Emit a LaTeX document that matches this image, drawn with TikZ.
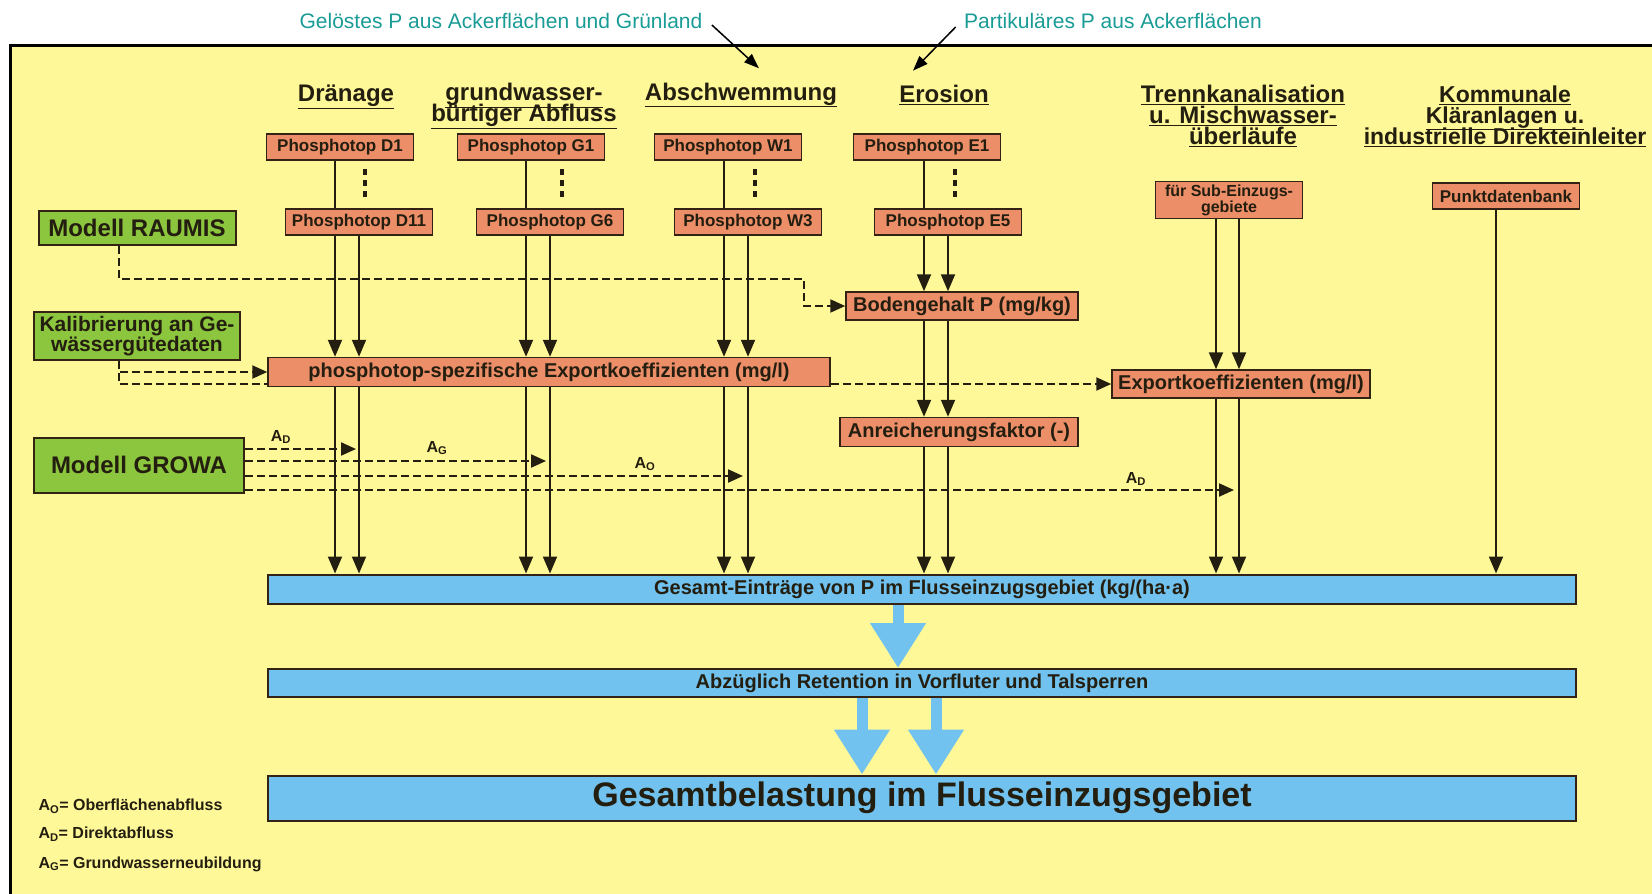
\documentclass[tikz,border=0pt]{standalone}
\usepackage{fontspec}
\setmainfont{Liberation Sans}
\usetikzlibrary{arrows.meta}

\definecolor{bgyellow}{RGB}{255,248,153}
\definecolor{phorange}{RGB}{236,142,104}
\definecolor{modgreen}{RGB}{140,197,62}
\definecolor{barblue}{RGB}{113,194,238}
\definecolor{boxline}{RGB}{50,35,20}
\definecolor{headtxt}{RGB}{35,30,15}
\definecolor{tealtxt}{RGB}{25,155,150}

\newcommand{\hul}[1]{\underline{#1}}
\newcommand{\Asub}[1]{A\textsubscript{#1}}
\newcommand{\headfont}[1]{\fontsize{#1}{21}\selectfont\bfseries\lineskiplimit=-20pt\relax}

\begin{document}
\begin{tikzpicture}[x=1pt,y=-1pt,
  phbox/.style={draw=boxline,line width=1.5pt,fill=phorange,text=headtxt,
    minimum width=147pt,minimum height=26pt,inner sep=0pt,
    font=\fontsize{17}{18}\selectfont\bfseries},
  midbox/.style={phbox,minimum height=28pt,inner sep=3pt,
    font=\fontsize{20}{22}\selectfont\bfseries},
  modbox/.style={draw=boxline,line width=2pt,fill=modgreen,text=headtxt,
    inner sep=0pt,align=center,font=\fontsize{24}{21}\selectfont\bfseries},
  blubar/.style={draw=boxline,line width=2pt,fill=barblue,text=headtxt,
    minimum width=1308pt,inner sep=0pt,font=\fontsize{20}{22}\selectfont\bfseries},
  head/.style={align=center,text=headtxt,font=\headfont{24}},
  arr/.style={line width=2pt,draw=headtxt,-{Triangle[width=14pt,length=17pt]}},
  dashln/.style={line width=2.2pt,draw=headtxt,dash pattern=on 8pt off 4pt},
  dasharr/.style={dashln,-{Triangle[width=13pt,length=15pt]}},
  bigarr/.style={line width=11pt,draw=barblue,-{Triangle[width=53pt,length=45pt]}},
  note/.style={text=tealtxt,font=\fontsize{21}{24}\selectfont}]
  \useasboundingbox (0,0) rectangle (1652,894);
  \clip (0,0) rectangle (1652,894);
  % frame
  \filldraw[fill=bgyellow,draw=black,line width=3pt] (10,45) rectangle (1690,930);

  % notes above the frame
  \node[note] (gel) at (501,21) {Gelöstes P aus Ackerflächen und Grünland};
  \node[note] (part) at (1113,21) {Partikuläres P aus Ackerflächen};

  % headers
  \node[head] (hDr) at (346,97) {\hul{Dränage}};
  \node[head] (hGw) at (524,106) {\hul{grundwasser-}\\\hul{bürtiger Abfluss}};
  \node[head] (hAb) at (741,95) {\hul{Abschwemmung}};
  \node[head] (hEr) at (944,95) {\hul{Erosion}};
  \node[head] (hTr) at (1243,116) {\hul{Trennkanalisation}\\\hul{u. Mischwasser-}\\\hul{überläufe}};
  \node[head,font=\headfont{23}] (hKo) at (1505,116) {\hul{Kommunale}\\\hul{Kläranlagen u.}\\\hul{industrielle Direkteinleiter}};

  \draw[line width=1.5pt,-{Triangle[width=11pt,length=15pt]}] ([xshift=6pt,yshift=-4pt]gel.east) -- ([xshift=18pt,yshift=11pt]hAb.north);
  \draw[line width=1.5pt,-{Triangle[width=11pt,length=15pt]}] ([xshift=-5pt,yshift=-6pt]part.west) -- ([xshift=-31pt,yshift=11pt]hEr.north);

  % phosphotope
  \node[phbox] (d1) at (340,147) {Phosphotop D1};
  \node[phbox] (g1) at (531,147) {Phosphotop G1};
  \node[phbox] (w1) at (728,147) {Phosphotop W1};
  \node[phbox] (e1) at (927,147) {Phosphotop E1};
  \node[phbox] (d11) at (359,222) {Phosphotop D11};
  \node[phbox] (g6) at (550,222) {Phosphotop G6};
  \node[phbox] (w3) at (748,222) {Phosphotop W3};
  \node[phbox] (e5) at (948,222) {Phosphotop E5};
  \foreach \x in {365,562,755,955}
    \foreach \y in {172,183,194}
      \fill[headtxt] (\x-2,\y-3) rectangle (\x+2,\y+3);

  % other sources
  \node[phbox,minimum height=37pt,align=center,font=\fontsize{16}{14}\selectfont\bfseries] (sub) at (1229,200) {für Sub-Einzugs-\\gebiete};
  \node[phbox] (punkt) at (1506,196) {Punktdatenbank};

  % models
  \node[modbox,minimum width=197pt,minimum height=34pt] (raumis) at (137,228) {Modell RAUMIS};
  \node[modbox,minimum width=206pt,minimum height=48pt,font=\fontsize{21}{20}\selectfont\bfseries] (kalib) at (137,336) {Kalibrierung an Ge-\\wässergütedaten};
  \node[modbox,minimum width=210pt,minimum height=55pt] (growa) at (139,465) {Modell GROWA};

  % intermediate boxes
  \node[midbox,minimum width=562pt,minimum height=29pt] (expo) at (549,372) {phosphotop-spezifische Exportkoeffizienten (mg/l)};
  \node[midbox,minimum width=232pt] (boden) at (962,306) {Bodengehalt P (mg/kg)};
  \node[midbox,minimum width=238pt,minimum height=29pt] (anr) at (959,432) {Anreicherungsfaktor (-)};
  \node[midbox,minimum width=258pt] (exp2) at (1241,384) {Exportkoeffizienten (mg/l)};

  % result bars
  \node[blubar,minimum height=29pt] (ges) at (922,589) {Gesamt-Einträge von P im Flusseinzugsgebiet (kg/(ha·a)};
  \node[blubar,minimum height=28pt] (abz) at (922,683) {Abzüglich Retention in Vorfluter und Talsperren};
  \node[blubar,minimum height=45pt,font=\fontsize{34}{36}\selectfont\bfseries] (bel) at (922,798) {Gesamtbelastung im Flusseinzugsgebiet};

  % Draenage
  \draw[line width=2pt,draw=headtxt] ([xshift=-24pt]d11.north) -- ([xshift=-24pt]d11.north |- d1.south);
  \draw[arr] ([xshift=-24pt]d11.south) -- ([xshift=-24pt]d11.south |- expo.north);
  \draw[arr] (d11.south) -- (d11.south |- expo.north);
  \draw[arr] ([xshift=-24pt]d11.south |- expo.south) -- ([xshift=-24pt]d11.south |- ges.north);
  \draw[arr] (d11.south |- expo.south) -- (d11.south |- ges.north);
  % grundwasserbuertiger Abfluss
  \draw[line width=2pt,draw=headtxt] ([xshift=-24pt]g6.north) -- ([xshift=-24pt]g6.north |- g1.south);
  \draw[arr] ([xshift=-24pt]g6.south) -- ([xshift=-24pt]g6.south |- expo.north);
  \draw[arr] (g6.south) -- (g6.south |- expo.north);
  \draw[arr] ([xshift=-24pt]g6.south |- expo.south) -- ([xshift=-24pt]g6.south |- ges.north);
  \draw[arr] (g6.south |- expo.south) -- (g6.south |- ges.north);
  % Abschwemmung
  \draw[line width=2pt,draw=headtxt] ([xshift=-24pt]w3.north) -- ([xshift=-24pt]w3.north |- w1.south);
  \draw[arr] ([xshift=-24pt]w3.south) -- ([xshift=-24pt]w3.south |- expo.north);
  \draw[arr] (w3.south) -- (w3.south |- expo.north);
  \draw[arr] ([xshift=-24pt]w3.south |- expo.south) -- ([xshift=-24pt]w3.south |- ges.north);
  \draw[arr] (w3.south |- expo.south) -- (w3.south |- ges.north);
  % Erosion
  \draw[line width=2pt,draw=headtxt] ([xshift=-24pt]e5.north) -- ([xshift=-24pt]e5.north |- e1.south);
  \draw[arr] ([xshift=-24pt]e5.south) -- ([xshift=-24pt]e5.south |- boden.north);
  \draw[arr] (e5.south) -- (e5.south |- boden.north);
  \draw[arr] ([xshift=-24pt]e5.south |- boden.south) -- ([xshift=-24pt]e5.south |- anr.north);
  \draw[arr] (e5.south |- boden.south) -- (e5.south |- anr.north);
  \draw[arr] ([xshift=-24pt]e5.south |- anr.south) -- ([xshift=-24pt]e5.south |- ges.north);
  \draw[arr] (e5.south |- anr.south) -- (e5.south |- ges.north);
  % Trennkanalisation, Punktquellen
  \draw[arr] ([xshift=-13pt]sub.south) -- ([xshift=-13pt]sub.south |- exp2.north);
  \draw[arr] ([xshift=10pt]sub.south) -- ([xshift=10pt]sub.south |- exp2.north);
  \draw[arr] ([xshift=-13pt]sub.south |- exp2.south) -- ([xshift=-13pt]sub.south |- ges.north);
  \draw[arr] ([xshift=10pt]sub.south |- exp2.south) -- ([xshift=10pt]sub.south |- ges.north);
  \draw[arr] ([xshift=-10pt]punkt.south) -- ([xshift=-10pt]punkt.south |- ges.north);

  % model inputs
  \coordinate (rbend) at (804,279);
  \draw[dasharr] ([xshift=-18pt]raumis.south) |- (rbend) |- (boden.west);
  \draw[dasharr] ([xshift=-18pt]kalib.south) |- (expo.west);
  \draw[dashln] ([xshift=-18pt]kalib.south) |- ([yshift=-12pt]expo.west);
  \draw[dasharr] ([yshift=-12pt]expo.east) -- ([yshift=-12pt]expo.east -| exp2.west);

  \coordinate (tipD) at (356,449);
  \coordinate (tipG) at (546,461);
  \coordinate (tipW) at (743,476);
  \coordinate (tipT) at (1234,490);
  \draw[dasharr] (growa.east |- tipD) -- (tipD);
  \draw[dasharr] (growa.east |- tipG) -- (tipG);
  \draw[dasharr] (growa.east |- tipW) -- (tipW);
  \draw[dasharr] (growa.east |- tipT) -- (tipT);
  \node[font=\fontsize{16}{18}\selectfont\bfseries,text=headtxt] (lD) at (281,437) {\Asub{D}};
  \node[font=\fontsize{16}{18}\selectfont\bfseries,text=headtxt] (lG) at (437,448) {\Asub{G}};
  \node[font=\fontsize{16}{18}\selectfont\bfseries,text=headtxt] (lO) at (645,464) {\Asub{O}};
  \node[font=\fontsize{16}{18}\selectfont\bfseries,text=headtxt] (lT) at (1136,479) {\Asub{D}};

  % results
  \draw[bigarr] ([xshift=-24pt]ges.south) -- ([xshift=-24pt]abz.north);
  \draw[bigarr] ([xshift=-60pt]abz.south) -- ([xshift=-60pt]bel.north);
  \draw[bigarr] ([xshift=14pt]abz.south) -- ([xshift=14pt]bel.north);

  % legend
  \node[anchor=west,text=headtxt,font=\fontsize{16}{18}\selectfont\bfseries] (leg1) at (35,806) {\Asub{O}= Oberflächenabfluss};
  \node[anchor=west,text=headtxt,font=\fontsize{16}{18}\selectfont\bfseries] (leg2) at (35,834) {\Asub{D}= Direktabfluss};
  \node[anchor=west,text=headtxt,font=\fontsize{16}{18}\selectfont\bfseries] (leg3) at (35,864) {\Asub{G}= Grundwasserneubildung};
\end{tikzpicture}
\end{document}
